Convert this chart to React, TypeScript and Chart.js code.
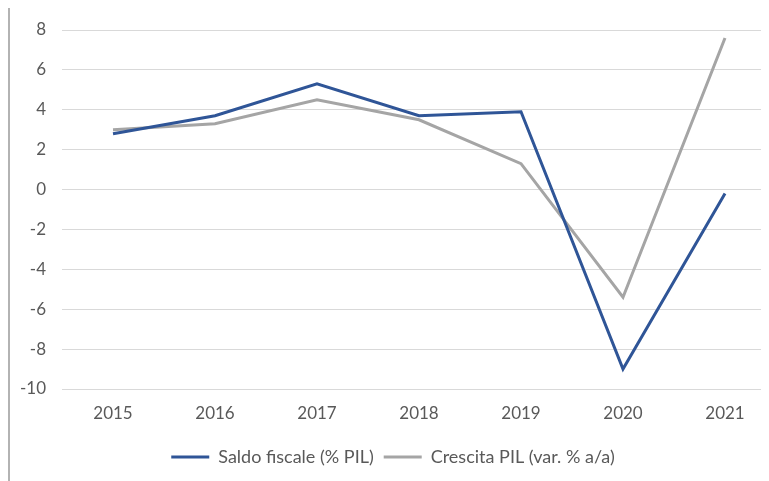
import React, { useEffect, useRef } from "react";
import { Chart, registerables } from "chart.js";

Chart.register(...registerables);

const years = ["2015", "2016", "2017", "2018", "2019", "2020", "2021"];
const saldoFiscale = [2.8, 3.7, 5.3, 3.7, 3.9, -9.0, -0.2];
const crescitaPil = [3.0, 3.3, 4.5, 3.5, 1.3, -5.4, 7.6];
const seriesNames = ["Saldo fiscale (% PIL)", "Crescita PIL (var. % a/a)"];

const FONT = "Lato, 'Open Sans', sans-serif";

export default function App() {
  const ref = useRef<HTMLCanvasElement | null>(null);
  useEffect(() => {
    if (!ref.current) return;
    const chart = new Chart(ref.current, {
      type: "line",
      data: {
        labels: years,
        datasets: [
          {
            label: seriesNames[0],
            data: saldoFiscale,
            borderColor: "#2f5597",
            backgroundColor: "#2f5597",
            borderWidth: 3,
            pointRadius: 0,
            tension: 0,
          },
          {
            label: seriesNames[1],
            data: crescitaPil,
            borderColor: "#a5a5a5",
            backgroundColor: "#a5a5a5",
            borderWidth: 3,
            pointRadius: 0,
            tension: 0,
          },
        ],
      },
      options: {
        responsive: false,
        animation: false,
        layout: { padding: { top: 22, right: 4, bottom: 5, left: 0 } },
        plugins: {
          tooltip: { enabled: false },
          legend: {
            position: "bottom",
            labels: {
              boxWidth: 38,
              boxHeight: 3,
              padding: 10,
              color: "#595959",
              font: { family: FONT, size: 18 },
              generateLabels: (c: any) =>
                c.data.datasets.map((d: any, i: number) => ({
                  text: d.label,
                  fillStyle: d.borderColor,
                  strokeStyle: d.borderColor,
                  lineWidth: 0,
                  datasetIndex: i,
                  hidden: false,
                  fontColor: "#595959",
                })),
            },
          },
        },
        scales: {
          x: {
            offset: true,
            grid: { display: false, drawTicks: false },
            border: { display: false },
            ticks: {
              color: "#595959",
              font: { family: FONT, size: 17 },
              padding: 14,
              maxRotation: 0,
            },
            afterFit: (s: any) => {
              s.height = 49;
              s.paddingLeft = 0;
              s.paddingRight = 0;
            },
          },
          y: {
            min: -10,
            max: 8,
            grid: { color: "#d9d9d9", lineWidth: 1, drawTicks: false },
            border: { display: false },
            ticks: {
              stepSize: 2,
              color: "#595959",
              font: { family: FONT, size: 17 },
              padding: 16,
            },
            afterFit: (s: any) => {
              s.width = 52;
              s.paddingTop = 0;
              s.paddingBottom = 0;
            },
          },
        },
      },
    });
    return () => chart.destroy();
  }, []);
  return (
    <div
      style={{
        position: "relative",
        width: 759,
        height: 473,
        borderLeft: "2px solid #b3b3b3",
        overflow: "hidden",
      }}
    >
      <canvas
        ref={ref}
        width={770}
        height={473}
        style={{ position: "absolute", left: 0, top: 0, width: 770, height: 473 }}
      />
    </div>
  );
}
